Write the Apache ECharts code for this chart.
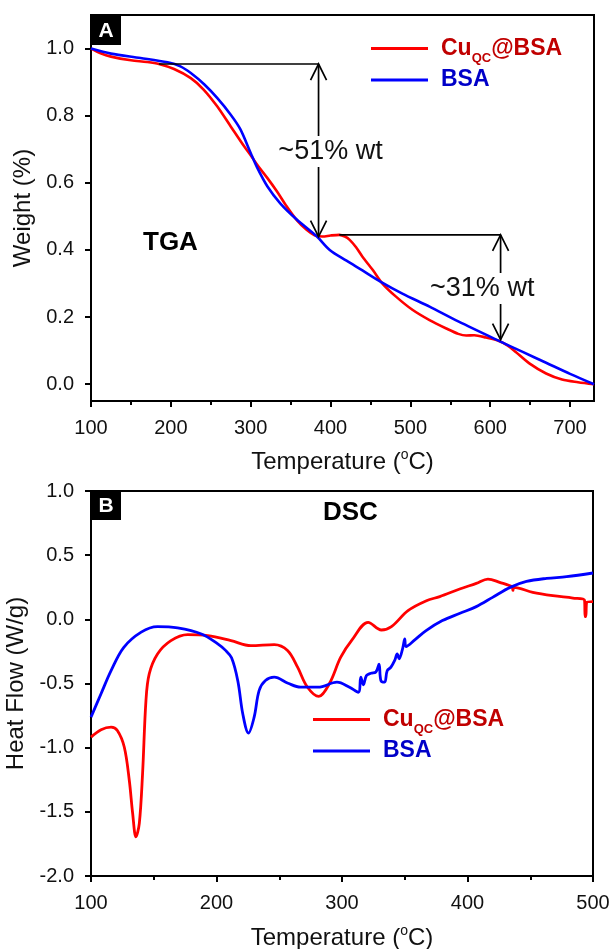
<!DOCTYPE html>
<html>
<head>
<meta charset="utf-8">
<script src="https://cdn.jsdelivr.net/npm/echarts@6/dist/echarts.min.js"></script>
<style>
  html, body { margin: 0; padding: 0; background: #fff; }
  #chart { width: 613px; height: 949px; }
</style>
</head>
<body>
<div id="chart"></div>
<script>
// ---- TGA: residual weight fraction vs temperature (°C) ----
const tgaCuTemp = [100, 112, 125, 150, 170, 185, 204, 225, 241, 258, 275, 292, 300, 310, 321, 333, 345, 358, 370, 380, 390, 400, 411, 418, 424, 432, 440, 453, 465, 482, 503, 524, 545, 560, 570, 580, 595, 611, 622, 632, 649, 670, 690, 710, 730];
const tgaCuWeight = [1.000, 0.986, 0.976, 0.965, 0.960, 0.954, 0.939, 0.912, 0.878, 0.828, 0.768, 0.708, 0.682, 0.648, 0.614, 0.574, 0.530, 0.488, 0.460, 0.444, 0.440, 0.443, 0.445, 0.440, 0.430, 0.408, 0.380, 0.340, 0.300, 0.261, 0.221, 0.191, 0.166, 0.150, 0.145, 0.146, 0.139, 0.129, 0.115, 0.096, 0.062, 0.032, 0.014, 0.006, 0.000];
const tgaBsaTemp = [100, 125, 162, 196, 212, 225, 242, 258, 275, 287, 300, 308, 321, 337, 358, 383, 399, 420, 440, 463, 490, 524, 560, 611, 640, 670, 700, 730];
const tgaBsaWeight = [1.000, 0.985, 0.972, 0.959, 0.947, 0.927, 0.893, 0.853, 0.803, 0.760, 0.689, 0.646, 0.589, 0.539, 0.490, 0.440, 0.400, 0.368, 0.339, 0.305, 0.270, 0.231, 0.187, 0.129, 0.097, 0.064, 0.031, 0.000];

// ---- DSC: heat flow (W/g) vs temperature (°C) ----
const dscCuTemp = [100, 108, 116, 121, 126.5, 130.5, 133.2, 135.8, 138.5, 141.1, 143.8, 146.4, 153, 163.7, 177, 193, 211.5, 227.4, 246, 256.6, 264.6, 272.5, 281.5, 290, 299, 308, 320.8, 331.4, 339.4, 352.6, 367.3, 377.9, 393.8, 407, 416.3, 425.6, 435.5, 436.2, 437, 452, 468, 484, 493.2, 493.7, 494.3, 495, 500];
const dscCuFlow = [-0.918, -0.86, -0.84, -0.866, -0.995, -1.254, -1.513, -1.695, -1.59, -1.2, -0.632, -0.425, -0.27, -0.166, -0.119, -0.127, -0.166, -0.205, -0.197, -0.243, -0.373, -0.529, -0.601, -0.50, -0.295, -0.160, -0.023, -0.083, -0.057, 0.068, 0.145, 0.177, 0.236, 0.28, 0.314, 0.288, 0.252, 0.225, 0.249, 0.21, 0.184, 0.166, 0.151, 0.021, 0.021, 0.132, 0.138];
const dscBsaTemp = [100, 108, 116, 126, 140, 153, 169, 188, 201, 207, 212, 217, 221, 225.5, 230, 234, 239, 246, 257, 267, 281, 296, 306, 313, 315, 317, 319.5, 323, 327, 329.5, 331, 334, 336, 339, 342, 344, 345.5, 348.5, 350, 351, 358, 367, 380, 394, 407, 420, 434, 447, 463, 479, 500];
const dscBsaFlow = [-0.762, -0.58, -0.40, -0.22, -0.10, -0.057, -0.067, -0.114, -0.191, -0.24, -0.30, -0.48, -0.74, -0.886, -0.762, -0.554, -0.477, -0.451, -0.498, -0.529, -0.529, -0.49, -0.529, -0.568, -0.451, -0.51, -0.438, -0.42, -0.41, -0.35, -0.477, -0.49, -0.40, -0.373, -0.32, -0.27, -0.308, -0.22, -0.153, -0.212, -0.16, -0.088, -0.01, 0.047, 0.099, 0.171, 0.249, 0.295, 0.319, 0.332, 0.361];

// ---- tick values ----
const tgaTempTicks = [100, 200, 300, 400, 500, 600, 700];
const tgaTempMinorTicks = [150, 250, 350, 450, 550, 650];
const tgaWeightTicks = [0.0, 0.2, 0.4, 0.6, 0.8, 1.0];

// ---- mass-loss steps marked on the TGA curve ----
const lossFromTemp = [185, 411];
const lossAtTemp = [385, 613];
const lossUpper = [0.954, 0.445];
const lossLower = [0.440, 0.133];
const lossText = ['~51% wt', '~31% wt'];
const lossTextTemp = [400, 590];
const lossTextWeight = [0.693, 0.285];

const CU_NAME = 'CuQC@BSA';
const BSA_NAME = 'BSA';
const RED = '#ff0000';
const BLUE = '#0000ff';
const FONT = '"Liberation Sans", Arial, Helvetica, sans-serif';

const pairs = (xs, ys) => xs.map((x, i) => [x, ys[i]]);

const axisLineStyle = { show: true, onZero: false, lineStyle: { color: '#000', width: 2 } };
const tickStyle = { lineStyle: { color: '#000', width: 2 } };
const labelStyle = { color: '#111', fontSize: 20, fontFamily: FONT, margin: 17 };
const tempName = '{t|Temperature (}{s|o}{t|C)}';
const tempNameStyle = {
  rich: {
    t: { fontSize: 24, fontFamily: FONT, color: '#111', lineHeight: 28 },
    s: { fontSize: 14, fontFamily: FONT, color: '#111', lineHeight: 14, verticalAlign: 'top' }
  }
};

const legendRich = {
  r: { color: '#c00000', fontSize: 23, fontWeight: 'bold', fontFamily: FONT, lineHeight: 32, padding: [0, 0, 0, 8] },
  r2: { color: '#c00000', fontSize: 23, fontWeight: 'bold', fontFamily: FONT, lineHeight: 32 },
  rs: { color: '#c00000', fontSize: 13, fontWeight: 'bold', fontFamily: FONT, lineHeight: 12, verticalAlign: 'bottom' },
  b: { color: '#0000c8', fontSize: 23, fontWeight: 'bold', fontFamily: FONT, lineHeight: 32, padding: [0, 0, 0, 8] }
};
const legendFormatter = name => name === CU_NAME ? '{r|Cu}{rs|QC}{r2|@BSA}' : '{b|BSA}';

function makeLegend(left, top) {
  return {
    orient: 'vertical', left: left, top: top, padding: 0,
    itemWidth: 57, itemHeight: 3, itemGap: 4, icon: 'rect',
    data: [CU_NAME, BSA_NAME],
    formatter: legendFormatter,
    textStyle: { rich: legendRich },
    selectedMode: false
  };
}

const chart = echarts.init(document.getElementById('chart'), null, { renderer: 'canvas' });

chart.setOption({
  backgroundColor: '#fff',
  animation: false,
  grid: [
    { left: 91, top: 15, width: 503, height: 386, outerBoundsMode: 'none', show: true, borderColor: '#000', borderWidth: 2, backgroundColor: 'transparent' },
    { left: 91, top: 491, width: 502, height: 385, outerBoundsMode: 'none', show: true, borderColor: '#000', borderWidth: 2, backgroundColor: 'transparent' }
  ],
  xAxis: [
    {
      gridIndex: 0, type: 'value', position: 'bottom', min: 100, max: 730,
      axisLine: axisLineStyle,
      axisTick: Object.assign({ customValues: tgaTempTicks, length: 6 }, tickStyle),
      axisLabel: Object.assign({ customValues: tgaTempTicks }, labelStyle),
      splitLine: { show: false },
      name: tempName, nameLocation: 'middle', nameGap: 47, nameTextStyle: tempNameStyle
    },
    {
      gridIndex: 0, type: 'value', position: 'bottom', min: 100, max: 730,
      axisLine: { show: false, onZero: false },
      axisTick: Object.assign({ customValues: tgaTempMinorTicks, length: 4 }, tickStyle),
      axisLabel: { show: false },
      splitLine: { show: false }
    },
    {
      gridIndex: 1, type: 'value', position: 'bottom', min: 100, max: 500, interval: 100,
      axisLine: axisLineStyle,
      axisTick: Object.assign({ length: 6 }, tickStyle),
      minorTick: { show: true, splitNumber: 2, length: 4, lineStyle: { color: '#000', width: 2 } },
      axisLabel: labelStyle,
      splitLine: { show: false },
      minorSplitLine: { show: false },
      name: tempName, nameLocation: 'middle', nameGap: 48, nameTextStyle: tempNameStyle
    }
  ],
  yAxis: [
    {
      gridIndex: 0, type: 'value', min: -0.05, max: 1.1,
      axisLine: axisLineStyle,
      axisTick: Object.assign({ customValues: tgaWeightTicks, length: 6 }, tickStyle),
      axisLabel: Object.assign({ customValues: tgaWeightTicks, formatter: v => v.toFixed(1) }, labelStyle),
      splitLine: { show: false },
      name: 'Weight (%)', nameLocation: 'middle', nameGap: 56,
      nameTextStyle: { fontSize: 24, fontFamily: FONT, color: '#111' }
    },
    {
      gridIndex: 1, type: 'value', min: -2, max: 1, interval: 0.5,
      axisLine: axisLineStyle,
      axisTick: Object.assign({ length: 6 }, tickStyle),
      axisLabel: Object.assign({ formatter: v => v.toFixed(1) }, labelStyle),
      splitLine: { show: false },
      name: 'Heat Flow (W/g)', nameLocation: 'middle', nameGap: 58,
      nameTextStyle: { fontSize: 24, fontFamily: FONT, color: '#111' }
    }
  ],
  legend: [makeLegend(371, 37), makeLegend(313, 708)],
  series: [
    {
      name: CU_NAME, type: 'line', xAxisIndex: 0, yAxisIndex: 0,
      data: pairs(tgaCuTemp, tgaCuWeight), showSymbol: false, smooth: 0.3,
      color: RED, lineStyle: { color: RED, width: 2.6 }
    },
    {
      name: BSA_NAME, type: 'line', xAxisIndex: 0, yAxisIndex: 0,
      data: pairs(tgaBsaTemp, tgaBsaWeight), showSymbol: false, smooth: 0.3,
      color: BLUE, lineStyle: { color: BLUE, width: 2.6 }
    },
    {
      name: CU_NAME, type: 'line', xAxisIndex: 2, yAxisIndex: 1,
      data: pairs(dscCuTemp, dscCuFlow), showSymbol: false, smooth: 0.35,
      color: RED, lineStyle: { color: RED, width: 2.8 }
    },
    {
      name: BSA_NAME, type: 'line', xAxisIndex: 2, yAxisIndex: 1,
      data: pairs(dscBsaTemp, dscBsaFlow), showSymbol: false, smooth: 0.35,
      color: BLUE, lineStyle: { color: BLUE, width: 2.8 }
    },
    {
      // step brackets: horizontal guide plus double-headed arrow with the loss label
      type: 'custom', xAxisIndex: 0, yAxisIndex: 0, silent: true, z: 5,
      encode: { x: 0, y: 2 },
      data: lossAtTemp.map((t, i) => [lossFromTemp[i], t, lossUpper[i], lossLower[i], lossTextTemp[i], lossTextWeight[i]]),
      renderItem: function (params, api) {
        const h0 = api.coord([api.value(0), api.value(2)]);
        const h1 = api.coord([api.value(1), api.value(2)]);
        const v1 = api.coord([api.value(1), api.value(3)]);
        const lab = api.coord([api.value(4), api.value(5)]);
        const s = { stroke: '#000', lineWidth: 1.7, fill: null };
        const aw = 8, ah = 16;
        return {
          type: 'group',
          children: [
            { type: 'line', shape: { x1: h0[0], y1: h0[1], x2: h1[0], y2: h1[1] }, style: s },
            { type: 'line', shape: { x1: h1[0], y1: h1[1], x2: v1[0], y2: v1[1] }, style: s },
            { type: 'polyline', shape: { points: [[h1[0] - aw, h1[1] + ah], [h1[0], h1[1]], [h1[0] + aw, h1[1] + ah]] }, style: s },
            { type: 'polyline', shape: { points: [[v1[0] - aw, v1[1] - ah], [v1[0], v1[1]], [v1[0] + aw, v1[1] - ah]] }, style: s },
            {
              type: 'text', x: lab[0], y: lab[1],
              style: {
                text: lossText[params.dataIndex], fill: '#111', font: '27px ' + FONT,
                align: 'center', verticalAlign: 'middle', backgroundColor: '#fff', padding: [2, 0, 2, 0]
              }
            }
          ]
        };
      }
    }
  ],
  graphic: [
    { type: 'rect', shape: { x: 91, y: 15, width: 30, height: 30 }, style: { fill: '#000' }, z: 10 },
    { type: 'text', x: 106, y: 31, style: { text: 'A', fill: '#fff', font: 'bold 21px ' + FONT, align: 'center', verticalAlign: 'middle' }, z: 11 },
    { type: 'rect', shape: { x: 91, y: 491, width: 30, height: 29 }, style: { fill: '#000' }, z: 10 },
    { type: 'text', x: 106, y: 506, style: { text: 'B', fill: '#fff', font: 'bold 21px ' + FONT, align: 'center', verticalAlign: 'middle' }, z: 11 },
    { type: 'text', x: 143, y: 243, style: { text: 'TGA', fill: '#000', font: 'bold 26px ' + FONT, align: 'left', verticalAlign: 'middle' }, z: 11 },
    { type: 'text', x: 323, y: 513, style: { text: 'DSC', fill: '#000', font: 'bold 26px ' + FONT, align: 'left', verticalAlign: 'middle' }, z: 11 }
  ]
});
</script>
</body>
</html>
